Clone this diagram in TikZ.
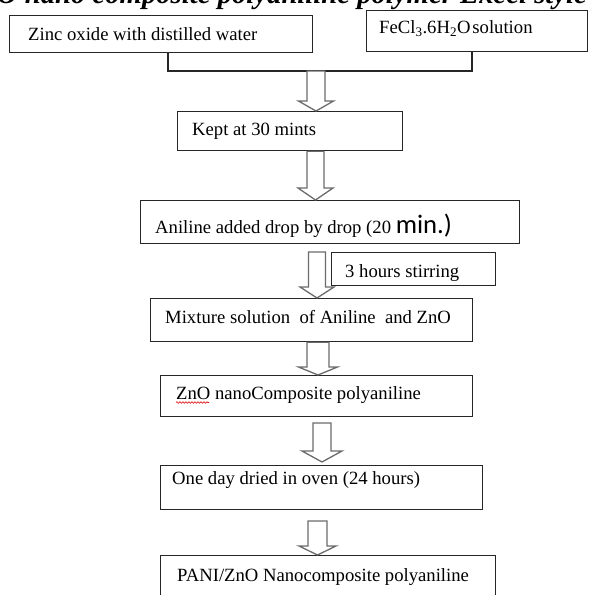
\documentclass[tikz,border=0pt]{standalone}
\usepackage{fontspec}
\setmainfont{Liberation Serif}
\newfontfamily\calib{Carlito}
\usetikzlibrary{calc,decorations.pathmorphing}
\begin{document}
\begin{tikzpicture}[x=1pt,y=-1pt,
  box/.style={draw=black!85,line width=1.2pt,rectangle,inner sep=0pt,anchor=north west},
  txt/.style={anchor=base west,inner sep=0pt,font=\fontsize{18.67}{22}\selectfont,text=black},
  link/.style={draw=black!85,line width=1.2pt},
  blockarrow/.style n args={3}{draw=black!58,line width=1.3pt,fill=white,
    to path={let \p1=(\tikztostart),\p2=(\tikztotarget) in
      (\x1-#1pt,\y1) -- (\x1-#1pt,\y2+#3pt) -- (\x1-#2pt,\y2+#3pt) -- (\x1,\y2)
      -- (\x1+#2pt,\y2+#3pt) -- (\x1+#1pt,\y2+#3pt) -- (\x1+#1pt,\y1) -- cycle}}]
\useasboundingbox (0,0) rectangle (589,595);
\clip (0,0) rectangle (589,595);

% title (cut off at the top)
\node[anchor=base east,inner sep=0pt,font=\fontsize{28.7}{32}\selectfont\bfseries\itshape] (title) at (587,3.2)
  {ZnO nano composite polyaniline polymer Excel style};

% boxes
\node[box,minimum width=303pt,minimum height=37pt] (b1) at (9,15) {};
\node[box,minimum width=221pt,minimum height=41pt] (b2) at (366,10) {};
\node[box,minimum width=225pt,minimum height=39pt] (b3) at (177,111) {};
\node[box,minimum width=379pt,minimum height=43pt] (b4) at (140,200) {};
\node[box,minimum width=164pt,minimum height=33pt] (b5) at (331,252) {};
\node[box,minimum width=322pt,minimum height=43pt] (b6) at (150,298) {};
\node[box,minimum width=312pt,minimum height=41pt] (b7) at (160,375) {};
\node[box,minimum width=322pt,minimum height=44pt] (b8) at (160,465) {};
\node[box,minimum width=335pt,minimum height=50pt] (b9) at (160,555) {};

% texts
\node[txt] (t1) at (28,40) {Zinc oxide with distilled water};
\node[txt] (t2) at (379,33.5) {FeCl\textsubscript{3}.6H\textsubscript{2}O\hspace{0.1em}solution};
\node[txt] (t3) at (192,135) {Kept at 30 mints};
\node[txt] (t4) at (155,233) {Aniline added drop by drop (20 {\calib\fontsize{26.67}{30}\selectfont min.)}};
\node[txt] (t5) at (345,277) {3 hours stirring};
\node[txt] (t6) at (165,323) {Mixture solution\hspace{0.25em} of Aniline\hspace{0.25em} and ZnO};
\node[txt] (t7) at (176,399) {ZnO nanoComposite polyaniline};
\draw[red!85!black,line width=0.6pt,decorate,decoration={snake,amplitude=0.8pt,segment length=3pt}]
  ($(t7.base west)+(0,3.5)$) -- ++(33,0);
\node[txt] (t8) at (172,484) {One day dried in oven (24 hours)};
\node[txt] (t9) at (177,581) {PANI/ZnO Nanocomposite polyaniline};

% bracket joining the two first boxes
\coordinate (jl) at (168,71);
\coordinate (jr) at (472,71);
\draw[link] (b1.south -| jl) -- (jl) -- (jr) -- (jr |- b2.south);

% block arrows
\coordinate (a1) at (316,71);
\draw[blockarrow={9}{17.5}{10}] (a1) to (a1 |- b3.north);
\coordinate (x2) at (315.5,0);
\draw[blockarrow={8.5}{17.5}{12}] (b3.south -| x2) to (b4.north -| x2);
\coordinate (a3) at (317,252);
\draw[blockarrow={8.5}{17}{11}] (a3) to (a3 |- b6.north);
\coordinate (x4) at (318,0);
\draw[blockarrow={11}{19.5}{8}] (b6.south -| x4) to (b7.north -| x4);
\coordinate (a5s) at (322,423);
\coordinate (a5e) at (322,462);
\draw[blockarrow={9}{20}{11}] (a5s) to (a5e);
\coordinate (a6) at (317.5,521);
\draw[blockarrow={9.5}{18.5}{9}] (a6) to (a6 |- b9.north);
\end{tikzpicture}
\end{document}
